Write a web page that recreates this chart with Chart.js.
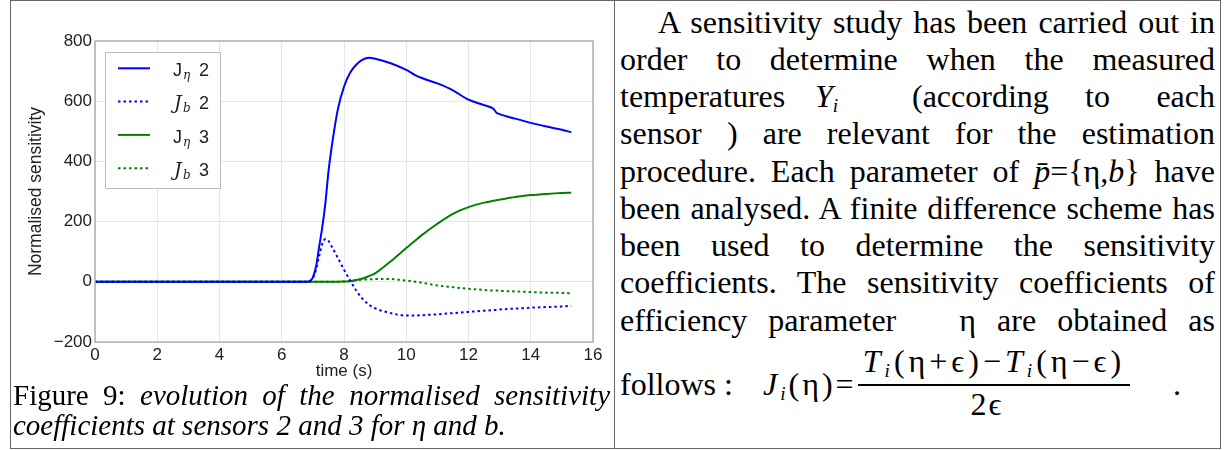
<!DOCTYPE html>
<html>
<head>
<meta charset="utf-8">
<script src="https://cdn.jsdelivr.net/npm/chart.js@4"></script>
<style>
  body {
    margin: 0;
    width: 1224px;
    height: 450px;
    background: #fff;
    position: relative;
    overflow: hidden;
    font-family: "Liberation Serif", "Times New Roman", serif;
    color: #000;
  }
  #frame { position: absolute; left: 10px; top: 0; width: 1209px; height: 447px; border: 1px solid #666; }
  #divider { position: absolute; left: 614px; top: 0; width: 1px; height: 448px; background: #666; }
  #chartBox { position: absolute; left: 0; top: 0; width: 614px; height: 388px; }
  #caption { position: absolute; left: 13px; top: 380.2px; width: 597px; font-size: 29px; line-height: 30px; }
  #text { position: absolute; left: 620px; top: 3.6px; width: 595px; font-size: 32px; line-height: 37.25px; }
  .just { text-align: justify; text-align-last: justify; }
  .row { position: relative; height: 37.25px; white-space: nowrap; }
  .row span.w { position: absolute; top: 0; }
  .abs { position: absolute; font-size: 32px; line-height: 37.25px; white-space: nowrap; }
  sub { font-size: 0.6em; vertical-align: -0.25em; line-height: 0; }
  .bar { position: absolute; left: 858px; top: 384px; width: 272px; height: 2px; background: #000; }
</style>
</head>
<body>
<div id="frame"></div>
<div id="divider"></div>

<div id="chartBox"><canvas id="chart" width="614" height="388"></canvas></div>

<div id="caption">
  <div class="just">Figure 9: <i>evolution of the normalised sensitivity</i></div>
  <div><i>coefficients at sensors 2 and 3 for η and b.</i></div>
</div>

<div id="text">
  <div class="just" style="text-indent:38px">A sensitivity study has been carried out in</div>
  <div class="just">order to determine when the measured</div>
  <div class="row">
    <span class="w" style="left:0">temperatures</span>
    <span class="w" style="left:195px"><i>Y</i><sub><i>i</i></sub></span>
    <span class="w" style="left:292px">(according</span>
    <span class="w" style="left:465px">to</span>
    <span class="w" style="right:0">each</span>
  </div>
  <div class="just">sensor ) are relevant for the estimation</div>
  <div class="just">procedure. Each parameter of <i>p̄</i>={η,<i>b</i>} have</div>
  <div class="just">been analysed. A finite difference scheme has</div>
  <div class="just">been used to determine the sensitivity</div>
  <div class="just">coefficients. The sensitivity coefficients of</div>
  <div class="just">efficiency parameter &nbsp; η are obtained as</div>
</div>

<div class="abs" style="left:620px; top:365.6px">follows :</div>
<div class="abs" style="left:763px; top:365.6px; letter-spacing:3px"><i>J</i><sub><i>i</i></sub>(η)=</div>
<div class="abs" style="left:858px; top:342.6px; width:272px; text-align:center; letter-spacing:4px"><i>T</i><sub><i>i</i></sub>(η+ϵ)−<i>T</i><sub><i>i</i></sub>(η−ϵ)</div>
<div class="bar"></div>
<div class="abs" style="left:858px; top:385.6px; width:258px; text-align:center; letter-spacing:2px">2ϵ</div>
<div class="abs" style="left:1173px; top:365.6px">.</div>

<script>
// time (s)
const time = [0, 6.8, 6.9, 7.0, 7.1, 7.2, 7.3, 7.4, 7.5, 7.6, 7.8, 8.0, 8.2, 8.4, 8.6, 8.8, 9.0,
  9.5, 10.0, 10.3, 10.5, 11.0, 11.5, 12.0, 12.5, 12.8, 12.9, 13.0, 13.5, 14.0, 14.5, 15.0, 15.3];

// normalised sensitivities
const jEta2 = [0, 0, 2, 15, 50, 115, 180, 260, 365, 445, 572, 648, 695, 722, 738, 744, 741,
  726, 704, 686, 677, 659, 636, 605, 587, 575, 562, 557, 542, 528, 516, 505, 497];
const jB2 = [0, 0, 2, 12, 40, 85, 125, 142, 136, 118, 80, 40, 4, -30, -57, -76, -88,
  -104, -112, -112, -111, -108, -104, -100, -96, -94, -93, -92, -89, -86, -84, -82, -80];
const jEta3 = [0, 0, 0, 0, 0, 0, 0, 0, 0, 0, 0, 1, 2, 6, 11, 19, 28,
  68, 112, 138, 155, 193, 226, 248, 263, 269, 271, 273, 282, 288, 292, 295, 296];
const jB3 = [0, 0, 0, 0, 0, 0, 0, 0, 0, 0, 0, 1, 3, 5, 7, 8, 9,
  9, 4, 0, -3, -12, -18, -23, -27, -29, -29, -30, -32, -34, -36, -37, -38];

const xTicks = [0, 2, 4, 6, 8, 10, 12, 14, 16];
const yTicks = [-200, 0, 200, 400, 600, 800];

const points = (arr) => time.map((t, i) => ({ x: t, y: arr[i] }));

Chart.defaults.font.family = '"Liberation Sans", Arial, sans-serif';
Chart.defaults.color = "#222";

/* frame round the plot + legend box in the upper left */
const boxLegend = {
  id: "boxLegend",
  afterDraw(chart) {
    const ctx = chart.ctx;
    const a = chart.chartArea;
    ctx.save();
    ctx.strokeStyle = "#b0b0b0";
    ctx.lineWidth = 1.5;
    ctx.setLineDash([]);
    ctx.strokeRect(a.left, a.top, a.right - a.left, a.bottom - a.top);

    ctx.fillStyle = "#fff";
    ctx.fillRect(105.5, 52.5, 115, 136);
    ctx.strokeStyle = "#bdbdbd";
    ctx.lineWidth = 1;
    ctx.strokeRect(105.5, 52.5, 115, 136);

    chart.data.datasets.forEach((ds, i) => {
      const y = 68.3 + i * 33.3;
      ctx.strokeStyle = ds.borderColor;
      ctx.lineWidth = 2;
      ctx.setLineDash(ds.borderDash || []);
      ctx.beginPath();
      ctx.moveTo(118, y);
      ctx.lineTo(150, y);
      ctx.stroke();
      ctx.setLineDash([]);

      const main = ds.label[0];
      const sub = ds.label[1];
      const rest = ds.label.slice(2);
      const base = y + 7.7;
      ctx.fillStyle = "#222";
      ctx.textBaseline = "alphabetic";
      if (sub === "η") {
        ctx.font = '18px "Liberation Sans", Arial, sans-serif';
        ctx.fillText(main, 173, base);
        ctx.font = 'italic 12px "DejaVu Serif", serif';
        ctx.fillText(sub, 183, base + 3);
      } else {
        ctx.font = 'italic 19px "DejaVu Serif", serif';
        ctx.fillText(main, 174, base);
        ctx.font = 'italic 12px "DejaVu Serif", serif';
        ctx.fillText(sub, 183, base + 3);
      }
      ctx.font = '18px "Liberation Sans", Arial, sans-serif';
      ctx.fillText(rest.trim(), 199, base);
    });
    ctx.restore();
  },
};

const line = (label, data, color, dashed) => ({
  label,
  data: points(data),
  borderColor: color,
  borderWidth: 2,
  borderDash: dashed ? [2.5, 3] : undefined,
  pointRadius: 0,
  cubicInterpolationMode: "monotone",
  fill: false,
});

new Chart(document.getElementById("chart"), {
  type: "line",
  data: {
    datasets: [
      line("Jη 2", jEta2, "#0000ff", false),
      line("Jb 2", jB2, "#0000ff", true),
      line("Jη 3", jEta3, "#008000", false),
      line("Jb 3", jB3, "#008000", true),
    ],
  },
  options: {
    responsive: false,
    animation: false,
    layout: { padding: { top: 41, right: 21, left: 0, bottom: 0 } },
    plugins: { legend: { display: false }, tooltip: { enabled: false } },
    scales: {
      x: {
        type: "linear",
        min: 0,
        max: 16,
        afterBuildTicks: (s) => { s.ticks = xTicks.map((v) => ({ value: v })); },
        afterFit: (s) => { s.height = 46; },
        ticks: { font: { size: 17 }, padding: 3, color: "#222" },
        grid: { color: "#e6e6e6", drawTicks: false },
        border: { display: false },
        title: { display: true, text: "time (s)", font: { size: 17 }, padding: { bottom: 6, top: 0 }, color: "#222" },
      },
      y: {
        min: -200,
        max: 800,
        afterBuildTicks: (s) => { s.ticks = yTicks.map((v) => ({ value: v })); },
        afterFit: (s) => { s.width = 95; },
        ticks: {
          font: { size: 17 },
          padding: 3,
          color: "#222",
          callback: (v) => String(v).replace("-", "\u2212"),
        },
        grid: { color: "#e6e6e6", drawTicks: false },
        border: { display: false },
        title: { display: true, text: "Normalised sensitivity", font: { size: 17.5 }, padding: { top: 26, bottom: 0 }, color: "#222" },
      },
    },
  },
  plugins: [boxLegend],
});
</script>
</body>
</html>
